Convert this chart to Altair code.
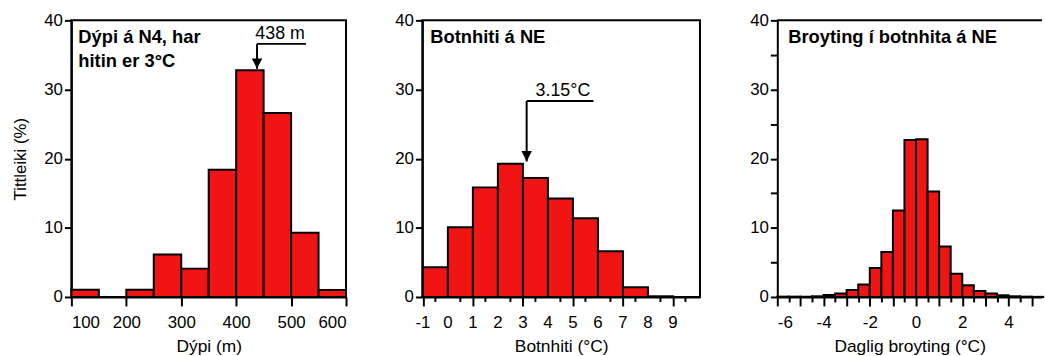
import altair as alt
import pandas as pd

# ---------------- data ----------------
depth_start = [100, 150, 200, 250, 300, 350, 400, 450, 500, 550]
depth_pct = [1.05, 0.0, 1.05, 6.15, 4.1, 18.4, 32.8, 26.6, 9.3, 1.0]

temp_start = [-1, 0, 1, 2, 3, 4, 5, 6, 7, 8]
temp_pct = [4.3, 10.1, 15.85, 19.25, 17.2, 14.25, 11.4, 6.6, 1.4, 0.1]

change_start = [-6.0, -5.5, -5.0, -4.5, -4.0, -3.5, -3.0, -2.5, -2.0, -1.5, -1.0, -0.5,
                0.0, 0.5, 1.0, 1.5, 2.0, 2.5, 3.0, 3.5, 4.0, 4.5, 5.0]
change_pct = [0.05, 0.05, 0.05, 0.1, 0.3, 0.5, 1.0, 1.8, 4.2, 6.5, 12.5, 22.7,
              22.8, 15.25, 7.3, 3.35, 1.7, 0.85, 0.5, 0.25, 0.1, 0.05, 0.02]

# annotations: arrow x, line level, line end x, arrow tip level, label x, label
depth_note = dict(x=[438], yl=[36.6], xe=[527], tip=[33.0], tx=[480], label=["438 m"])
temp_note = dict(x=[3.15], yl=[28.35], xe=[5.82], tip=[19.6], tx=[4.6], label=["3.15°C"])

# tick positions and labels
depth_ticks = list(range(100, 601, 25))
temp_major = list(range(-1, 11))
temp_minor = [t + 0.5 for t in range(-1, 10)]
temp_labels = ["-1", "0", "1", "2", "3", "4", "5", "6", "7", "8", "9"]
change_ticks = [v / 2 for v in range(-12, 11)]

titles = ["Dýpi á N4, har\nhitin er 3°C", "Botnhiti á NE", "Broyting í botnhita á NE"]

RED = "#F01414"
FONT = "Liberation Sans"
FS = 17
H = 279

y_ticks = list(range(0, 41, 5))


def y_axis(title):
    kw = dict(values=y_ticks, tickSize=7, labelPadding=2, labelOverlap=False,
              labelExpr="datum.value % 10 === 0 ? toString(datum.value) : ''")
    if title:
        return alt.Y("pct:Q", scale=alt.Scale(domain=[0, 40], nice=False, zero=True),
                     axis=alt.Axis(title=title, titlePadding=14, **kw))
    return alt.Y("pct:Q", scale=alt.Scale(domain=[0, 40], nice=False, zero=True),
                 axis=alt.Axis(title=None, **kw))


def x_axis(domain, values, title, major_test, label_test, labels=True):
    kw = dict(title=title, values=values, labelOverlap=False, titleFontSize=17.5,
              tickSize={"condition": {"test": major_test, "value": 9}, "value": 5})
    if labels:
        kw.update(labelPadding=9, titlePadding=7,
                  labelExpr=f"{label_test} ? toString(datum.value) : ''")
    else:
        kw.update(labels=False, titlePadding=31)
    return alt.X("start:Q", scale=alt.Scale(domain=domain, nice=False, zero=False),
                 axis=alt.Axis(**kw))


def bars(start, pct, width, domain, values, xtitle, major_test, label_test, ytitle,
         labels=True):
    df = pd.DataFrame({"start": start, "end": [s + width for s in start], "pct": pct})
    return alt.Chart(df).mark_bar(color=RED, stroke="black", strokeWidth=2).encode(
        x=x_axis(domain, values, xtitle, major_test, label_test, labels),
        x2="end:Q",
        y=y_axis(ytitle),
        y2=alt.datum(0),
    )


def panel_title(text, xpx):
    return alt.Chart(pd.DataFrame({"t": [text]})).mark_text(
        align="left", baseline="alphabetic", fontWeight="bold", fontSize=18.5,
        font=FONT, color="black", lineBreak="\n", lineHeight=25
    ).encode(x=alt.value(xpx), y=alt.value(22.5), text="t:N")


def note(d):
    df = pd.DataFrame(d)
    hline = alt.Chart(df).mark_rule(color="black", strokeWidth=2).encode(
        x="x:Q", x2="xe:Q", y="yl:Q")
    vline = alt.Chart(df).mark_rule(color="black", strokeWidth=2).encode(
        x="x:Q", y="yl:Q", y2="tip:Q")
    head = alt.Chart(df).mark_point(shape="M-1,-1L1,-1L0,1Z", filled=True, size=110,
                                    color="black", opacity=1, yOffset=-5.2).encode(
        x="x:Q", y="tip:Q")
    txt = alt.Chart(df).mark_text(baseline="bottom", dy=-1, fontSize=18, font=FONT,
                                  color="black").encode(x="tx:Q", y="yl:Q", text="label:N")
    return hline + vline + head + txt


p1 = alt.layer(
    bars(depth_start, depth_pct, 50, [100, 600], depth_ticks, "Dýpi (m)",
         "datum.value % 50 === 0", "datum.value % 100 === 0", "Tittleiki (%)"),
    note(depth_note),
    panel_title(titles[0], 7),
).properties(width=277, height=H)

minor2 = alt.Chart(pd.DataFrame({"m": temp_minor})).mark_rule(
    color="black", strokeWidth=2).encode(x="m:Q", y=alt.value(H), y2=alt.value(H + 5))

labels2 = alt.Chart(pd.DataFrame({"v": temp_major[:-1], "s": temp_labels})).mark_text(
    baseline="top", fontSize=FS, font=FONT, color="black").encode(
    x="v:Q", y=alt.value(H + 18), text="s:N")

p2 = alt.layer(
    bars(temp_start, temp_pct, 1, [-1.02, 10.08], temp_major, "Botnhiti (°C)",
         "true", "true", None, labels=False),
    minor2,
    labels2,
    note(temp_note),
    panel_title(titles[1], 8),
).properties(width=280, height=H)

top_rule = alt.Chart(pd.DataFrame({"a": [0]})).mark_rule(color="black", strokeWidth=2).encode(
    x=alt.value(0), x2=alt.value("width"), y=alt.value(0))

p3 = alt.layer(
    bars(change_start, change_pct, 0.5, [-6, 5.45], change_ticks,
         "Daglig broyting (°C)", "datum.value % 1 === 0", "datum.value % 2 === 0", None),
    top_rule,
    panel_title(titles[2], 11),
).properties(width=267, height=H, view=alt.ViewBackground(strokeOpacity=0))

chart = alt.hconcat(alt.hconcat(p1, p2, spacing=46), p3, spacing=49).properties(
    padding={"left": 11, "top": 9, "right": 0, "bottom": 0},
    background="white",
).configure_view(stroke="black", strokeWidth=2).configure_axis(
    grid=False, domainColor="black", domainWidth=2, tickColor="black", tickWidth=2,
    labelColor="black", labelFont=FONT, labelFontSize=FS, titleFont=FONT,
    titleFontSize=FS, titleFontWeight="normal", titleColor="black", labelOverlap=False,
)

chart.save("out.html", embed_options={"renderer": "svg", "actions": False})
